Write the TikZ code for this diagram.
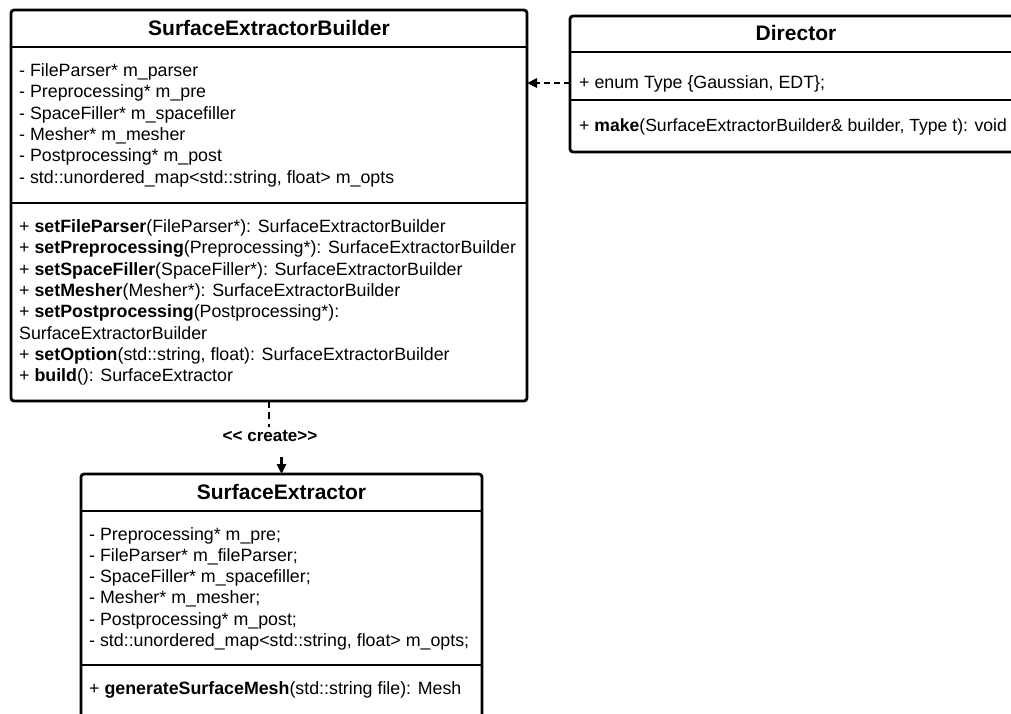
\documentclass[tikz,border=0pt]{standalone}
\usepackage{fontspec}
\setmainfont{Liberation Sans}
\usetikzlibrary{arrows.meta}
\begin{document}
\begin{tikzpicture}[x=1pt,y=-1pt,
  classbox/.style={draw, line width=2.8pt, rounded corners=3pt, inner sep=0pt, outer sep=0pt, anchor=north west},
  divider/.style={line width=2.8pt},
  ctitle/.style={font=\fontsize{21}{24}\selectfont\bfseries, anchor=base, inner sep=0pt},
  member/.style={font=\fontsize{17.8}{21.3}\selectfont, anchor=base west, inner sep=0pt},
  dep/.style={line width=2.6pt, dash pattern=on 6pt off 4pt, -{Triangle[length=10pt,width=9pt]}},
  createdep/.style={dep, dash pattern=on 6.5pt off 4.92pt},
  stereo/.style={font=\fontsize{17}{20}\selectfont\bfseries, fill=white, anchor=base, inner xsep=3pt, inner ysep=3pt, text height=11pt, text depth=13pt},
]
\useasboundingbox[fill=white] (0,0) rectangle (1011,713);

% ---------- SurfaceExtractorBuilder ----------
\node[classbox, minimum width=516pt, minimum height=391pt] (builder) at (11,10) {};
\draw[divider] (builder.west |- 0,47) -- (builder.east |- 0,47);
\draw[divider] (builder.west |- 0,203) -- (builder.east |- 0,203);
\node[ctitle] (btitle) at (269,35.4) {SurfaceExtractorBuilder};
\node[member] (ba1) at (19,76.5) {- FileParser* m\_parser};
\node[member] (ba2) at (19,97.8) {- Preprocessing* m\_pre};
\node[member] (ba3) at (19,119.1) {- SpaceFiller* m\_spacefiller};
\node[member] (ba4) at (19,140.4) {- Mesher* m\_mesher};
\node[member] (ba5) at (19,161.7) {- Postprocessing* m\_post};
\node[member] (ba6) at (19,183.0) {- std::unordered\_map<std::string, float> m\_opts};
\node[member] (bm1) at (19,232.5) {+ \textbf{setFileParser}(FileParser*): SurfaceExtractorBuilder};
\node[member] (bm2) at (19,253.8) {+ \textbf{setPreprocessing}(Preprocessing*): SurfaceExtractorBuilder};
\node[member] (bm3) at (19,275.1) {+ \textbf{setSpaceFiller}(SpaceFiller*): SurfaceExtractorBuilder};
\node[member] (bm4) at (19,296.4) {+ \textbf{setMesher}(Mesher*): SurfaceExtractorBuilder};
\node[member] (bm5) at (19,317.7) {+ \textbf{setPostprocessing}(Postprocessing*):};
\node[member] (bm6) at (19,339.0) {SurfaceExtractorBuilder};
\node[member] (bm7) at (19,360.3) {+ \textbf{setOption}(std::string, float): SurfaceExtractorBuilder};
\node[member] (bm8) at (19,381.6) {+ \textbf{build}(): SurfaceExtractor};

% ---------- Director ----------
\node[classbox, minimum width=452pt, minimum height=136pt] (director) at (570,16) {};
\draw[divider] (director.west |- 0,52) -- (director.east |- 0,52);
\draw[divider] (director.west |- 0,100) -- (director.east |- 0,100);
\node[ctitle] (dtitle) at (796,40) {Director};
\node[member] (da1) at (579,88) {+ enum Type \{Gaussian, EDT\};};
\node[member, font=\fontsize{17.6}{21.3}\selectfont] (dm1) at (579,131) {+ \textbf{make}(SurfaceExtractorBuilder\& builder, Type t): void};

% ---------- SurfaceExtractor ----------
\node[classbox, minimum width=401pt, minimum height=280pt] (extractor) at (81,474) {};
\draw[divider] (extractor.west |- 0,511) -- (extractor.east |- 0,511);
\draw[divider] (extractor.west |- 0,665) -- (extractor.east |- 0,665);
\node[ctitle] (etitle) at (281.5,499) {SurfaceExtractor};
\node[member] (ea1) at (89,540) {- Preprocessing* m\_pre;};
\node[member] (ea2) at (89,561.3) {- FileParser* m\_fileParser;};
\node[member] (ea3) at (89,582.6) {- SpaceFiller* m\_spacefiller;};
\node[member] (ea4) at (89,603.9) {- Mesher* m\_mesher;};
\node[member] (ea5) at (89,625.2) {- Postprocessing* m\_post;};
\node[member] (ea6) at (89,646.5) {- std::unordered\_map<std::string, float> m\_opts;};
\node[member] (em1) at (89,694.5) {+ \textbf{generateSurfaceMesh}(std::string file): Mesh};

% ---------- connectors ----------
\draw[dep] (director.west |- 0,83) -- (builder.east |- 0,83);
\coordinate (jog1) at (builder.south |- 0,440);
\coordinate (jog2) at (extractor.north |- 0,440);
\draw[createdep] (builder.south) -- (jog1) -- (jog2) -- (extractor.north);
\node[stereo] (create) at (270,441) {<{}< create>{}>};
\end{tikzpicture}
\end{document}
